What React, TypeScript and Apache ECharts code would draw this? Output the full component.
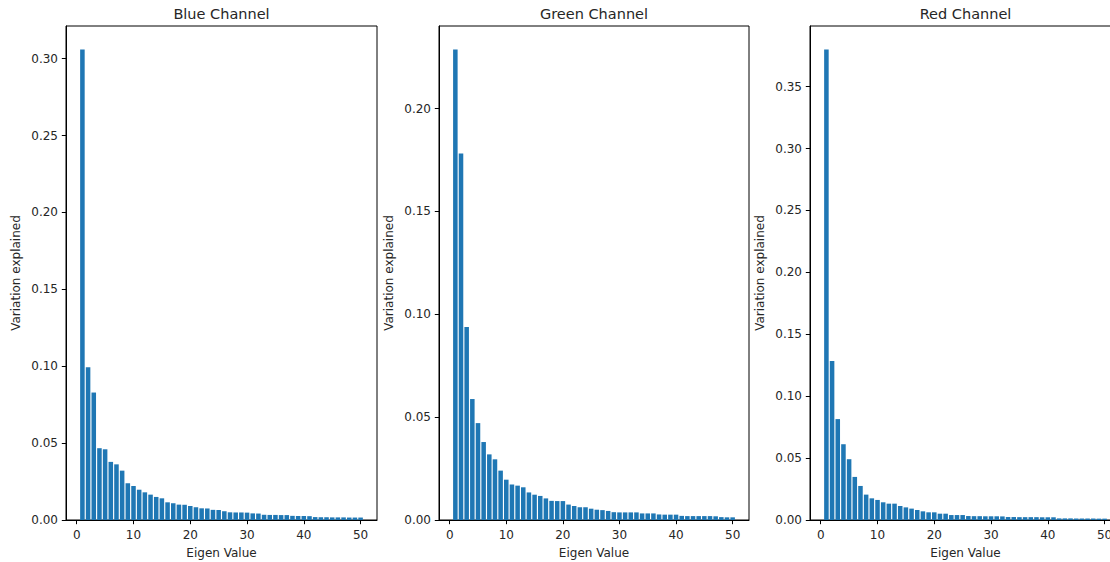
import React, { useEffect, useRef } from "react";
import * as echarts from "echarts";

const eigenIndex = [
  1, 2, 3, 4, 5, 6, 7, 8, 9, 10, 11, 12, 13, 14, 15, 16, 17, 18, 19, 20, 21, 22, 23, 24, 25,
  26, 27, 28, 29, 30, 31, 32, 33, 34, 35, 36, 37, 38, 39, 40, 41, 42, 43, 44, 45, 46, 47, 48, 49, 50,
];

const blueValues = [
  0.306, 0.0994, 0.0829, 0.0467, 0.046, 0.0378, 0.0362, 0.0321, 0.0239, 0.0221,
  0.0197, 0.018, 0.0165, 0.015, 0.0141, 0.0115, 0.0109, 0.01, 0.0099, 0.0091,
  0.0083, 0.0076, 0.0075, 0.0066, 0.0065, 0.0057, 0.005, 0.0049, 0.0049, 0.0048,
  0.0043, 0.0042, 0.0034, 0.0033, 0.0033, 0.0032, 0.0032, 0.0027, 0.0026, 0.0026,
  0.0025, 0.0019, 0.0018, 0.0018, 0.0017, 0.0017, 0.0017, 0.0016, 0.0016, 0.0016,
];

const greenValues = [
  0.2287, 0.1781, 0.0938, 0.0588, 0.0471, 0.0379, 0.0319, 0.0295, 0.024, 0.0196,
  0.0173, 0.0167, 0.0159, 0.0134, 0.0123, 0.0117, 0.0105, 0.0093, 0.0092, 0.0092,
  0.0075, 0.0068, 0.0062, 0.0062, 0.0055, 0.005, 0.0048, 0.0044, 0.0038, 0.0037,
  0.0037, 0.0037, 0.0037, 0.0032, 0.0032, 0.0032, 0.0027, 0.0026, 0.0026, 0.0026,
  0.002, 0.0019, 0.0019, 0.0019, 0.0019, 0.0019, 0.0018, 0.0014, 0.0013, 0.0013,
];

const redValues = [
  0.38, 0.1284, 0.0815, 0.0612, 0.0491, 0.0348, 0.0275, 0.0205, 0.0175, 0.0162,
  0.0143, 0.0132, 0.0132, 0.0113, 0.0102, 0.0092, 0.0081, 0.007, 0.0062, 0.0062,
  0.0051, 0.0051, 0.004, 0.004, 0.004, 0.0032, 0.0031, 0.0031, 0.003, 0.003,
  0.003, 0.0029, 0.0024, 0.0024, 0.0023, 0.0023, 0.0023, 0.0023, 0.0022, 0.0022,
  0.0022, 0.0013, 0.0013, 0.0013, 0.0012, 0.0012, 0.0012, 0.0012, 0.0011, 0.0011,
];

const panelTitles = ["Blue Channel", "Green Channel", "Red Channel"];
const xTickLabels = [0, 10, 20, 30, 40, 50];
const blueYTicks = [0, 0.05, 0.1, 0.15, 0.2, 0.25, 0.3];
const greenYTicks = [0, 0.05, 0.1, 0.15, 0.2];
const redYTicks = [0, 0.05, 0.1, 0.15, 0.2, 0.25, 0.3, 0.35];
const xAxisTitle = "Eigen Value";
const yAxisTitle = "Variation explained";

const FONT = "DejaVu Sans";
const TEXT = "#262626";
const BAR = "#1f77b4";

export default function App() {
  const ref = useRef<HTMLDivElement>(null);

  useEffect(() => {
    if (!ref.current) return;
    const chart = echarts.init(ref.current, undefined, { renderer: "svg" });

    const panels = [
      { values: blueValues, yTicks: blueYTicks, left: 66, width: 311 },
      { values: greenValues, yTicks: greenYTicks, left: 439, width: 310 },
      { values: redValues, yTicks: redYTicks, left: 810, width: 311 },
    ];
    const top = 26;
    const height = 494;
    const xMin = 0.6 - 0.05 * 49.8;
    const xMax = 50.4 + 0.05 * 49.8;

    const option: any = {
      animation: false,
      backgroundColor: "#fff",
      title: panels.map((p, i) => ({
        text: panelTitles[i],
        left: p.left + p.width / 2,
        top: 6,
        textAlign: "center",
        padding: 0,
        textStyle: { fontFamily: FONT, fontSize: 14.5, fontWeight: "normal", color: TEXT },
      })),
      grid: panels.map((p) => ({
        left: p.left,
        top,
        width: p.width,
        height,
        show: true,
        borderColor: "#000",
        borderWidth: 1,
        backgroundColor: "transparent",
        containLabel: false,
        outerBoundsMode: "none",
      })),
      xAxis: panels.map((p, i) => ({
        type: "value",
        gridIndex: i,
        min: xMin,
        max: xMax,
        name: xAxisTitle,
        nameLocation: "middle",
        nameGap: 27,
        nameTextStyle: { fontFamily: FONT, fontSize: 12, color: TEXT },
        axisLine: { show: true, onZero: false, lineStyle: { color: "#000", width: 1 } },
        axisTick: { show: true, inside: false, length: 4.2, lineStyle: { color: "#000" }, customValues: xTickLabels },
        axisLabel: {
          customValues: xTickLabels,
          fontFamily: FONT,
          fontSize: 12,
          color: TEXT,
          margin: 9,
          formatter: (v: number) => String(Math.round(v)),
        },
        splitLine: { show: false },
      })),
      yAxis: panels.map((p, i) => {
        const maxV = Math.max(...p.values) * 1.05;
        return {
          type: "value",
          gridIndex: i,
          min: 0,
          max: maxV,
          name: yAxisTitle,
          nameLocation: "middle",
          nameGap: 44,
          nameTextStyle: { fontFamily: FONT, fontSize: 12, color: TEXT },
          axisLine: { show: true, onZero: false, lineStyle: { color: "#000", width: 1 } },
          axisTick: { show: true, inside: false, length: 4.2, lineStyle: { color: "#000" }, customValues: p.yTicks },
          axisLabel: {
            customValues: p.yTicks,
            fontFamily: FONT,
            fontSize: 12,
            color: TEXT,
            margin: 8,
            formatter: (v: number) => v.toFixed(2),
          },
          splitLine: { show: false },
        };
      }),
      series: panels.map((p, i) => ({
        type: "bar",
        xAxisIndex: i,
        yAxisIndex: i,
        barWidth: (0.8 * p.width) / (xMax - xMin),
        itemStyle: { color: BAR },
        data: eigenIndex.map((x, k) => [x, p.values[k]]),
      })),
    };

    chart.setOption(option);
    return () => chart.dispose();
  }, []);

  return (
    <div
      style={{ position: "absolute", left: 0, top: 0, width: 1110, height: 562, overflow: "hidden" }}
    >
      <div ref={ref} style={{ position: "absolute", left: 0, top: 0, width: 1140, height: 562 }} />
    </div>
  );
}
